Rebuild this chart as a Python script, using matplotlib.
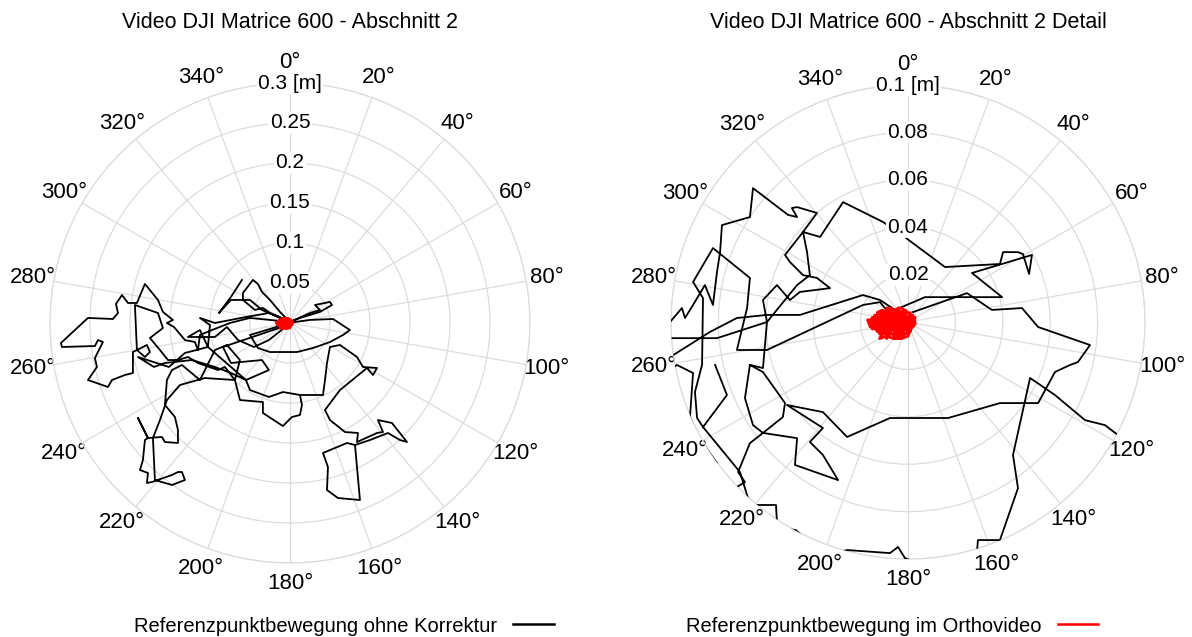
import numpy as np
import matplotlib.pyplot as plt
from matplotlib.lines import Line2D

plt.rcParams['font.family'] = ['Liberation Sans', 'DejaVu Sans']

nan = np.nan

# Referenzpunktbewegung ohne Korrektur (Ost / Nord, mm) - Uebersicht
ohne_x = [-2.5, 25, 37.5, 31.3, 50, 52.5, 37.5, 12.5, -2.5, 25, 53.8, 75, 66.3, 50, 28.8, 8.8,
          -25, -40, -50, -21.3, -2.5, -12.5, -25, -33.8, -43.8, -58.8, -58.8, -46.3, -40, -35,
          -25, -12.5, 0, -25, -50, -75, -97.5, -112.5, -115, -118.8, -131.3, -145, -153.8,
          -146.3, -158.8, -165, -181.3, -191.3, -202.5, -210, -217.5, -215, -221.3, -252.5,
          -286.3, -285, -243.8, -240, -233.8, -243.8, -241.3, -252.5, -227.5, -222.5, -206.3,
          -196.3, -196.3, -178.8, -175, -181.3, -191.3, -193.8, -165, -158.8, -175, -162.5,
          -152.5, -140, -127.5, -115, -90, -81.3, -68.8, -62.5, -78.8, -93.8, -112.5, -135,
          -147.5, -153.8, -156.3, -143.8, -140, -140, -156.3, -160, -177.5, -190, -177.5,
          -181.3, -183.8, -187.5, -177.5, -178.8, -172.5, -147.5, -140, -135, -131.3, -147.5,
          -168.8, -171.3, -162.5, -153.8, -137.5, -106.3, -68.8, -62.5, -33.8, -33.8, -8.8,
          2.5, 12.5, 15, 12.5, 41.3, 43.8, 46.3, 50, 62.5, 83.8, 91.3, 108.8, 103.8, 96.3,
          62.5, 43.8, 50, 68.8, 85, 83.8, 108.8, 116.3, 110, 127.5, 141.3, 146.3, 137.5,
          122.5, 100, 81.3, 87.5, 60, 46.3, 47.5, 41.3, 71.3, 81.3, nan,
          -60, -73.8, -88.8, -73.8, -50, -35, -6.3, -26.3, -55, -93.8, -112.5, -100, -102.5,
          -112.5, -127.5, -93.8, -78.8, -65, -45, -26.3, -2.5,
          -83.8, -73.8, -35, -26.3, -55, -73.8, -93.8, -122.5, -156.3, -170, -190, -151.3,
          -131.3, -102.5, -55, -50, -26.3, -8.8, 12.5]
ohne_y = [0, 12.5, 16.3, 22.5, 26.3, 22.5, 13.8, 6.3, 0, 3.8, 5, -8.8, -15, -23.8, -31.3, -36.3,
          -36.3, -31.3, -15, -6.3, 0, 7.5, 12.5, 18.8, 16.3, 28.8, 37.5, 53.8, 48.8, 38.8,
          28.8, 13.8, 1.3, 3.8, 6.3, 0, -8.8, -15, -33.8, -23.8, -21.3, -5, 0,
          3.8, 13.8, 28.8, 48.8, 25, 25, 35, 23.8, 12.5, 5, 6.3,
          -25, -30, -28.8, -21.3, -23.8, -43.8, -55, -71.3, -80, -71.3, -65,
          -62.5, -36.3, -27.5, -36.3, -42.5, -33.8, 22.5, 12.5, -6.3, -18.8, -33.8,
          -46.3, -46.3, -42.5, -50, -58.8, -55, -71.3, -46.3, -27.5, -33.8, -71.3, -52.5,
          -58.8, -71.3, -102.5, -117.5, -133.8, -150, -148.8, -142.5, -143.8, -118.8, -143.8,
          -146.3, -171.3, -183.8, -187.5, -200, -198.8, -190, -186.3, -186.3, -196.3, -202.5,
          -196.3, -143.8, -121.3, -96.3, -77.5, -68.8, -71.3, -96.3, -98.8, -112.5, -128.8,
          -117.5, -115, -102.5, -90, -90, -71.3, -50, -30, -27.5, -42.5, -55, -56.3, -65, -56.3,
          -83.8, -108.8, -121.3, -136.3, -137.5, -148.8, -137.5, -136.3, -121.3, -125, -142.5, -148.8, -146.3,
          -137.5, -146.3, -152.5, -221.3, -218.8, -208.8, -180, -162.5, -150, -152.5, nan,
          53.8, 32.5, 12.5, 28.8, 28.8, 16.3, 3.8, 12.5, 7.5, 0, 6.3, -2.5, -30,
          -8.8, -17.5, -17.5, -5, -21.3, -30, -21.3, -2.5,
          -30, -50, -46.3, -58.8, -71.3, -62.5, -55, -46.3, -50, -55, -42.5, -55,
          -37.5, -30, -71.3, -83.8, -92.5, -86.3, -90]

# Referenzpunktbewegung ohne Korrektur (Ost / Nord, mm) - Detailausschnitt
detail_x = [-113.1, -100.4, -83.6, -72.2, -59.5, -45.6, -19.0, -11.8, -5.5, 7.2, 39.7, 27.0,
            52.3, 51.1, 48.5, 46.4, 40.1, 38.8, 15.6, -2.5, -10.5, -27.4, -37.1, -44.3, -38.4,
            -46.8, -49.0, -46.8, -50.6, -65.4, -66.7, -78.5, -79.3, -80.6, -82.3, -85.7, -90.7,
            -94.1, -95.4, -100.4, -111.0, -100.4, -80.6, -59.5, -46.8, -41.4, -42.6, -44.3,
            -51.9, -49.8, -44.3, -38.4, -32.9, -45.6, -49.8, -55.3, -61.2, -59.5, -61.2, -66.7,
            -68.8, -65.4, -61.2, -46.8, -47.7, -29.5, -35.9, -41.4, -35.9, -51.1, -35.9, -25.7,
            -7.6, 16.9, 38.8, 54.9, 62.0, 68.4, 71.7, 76.8, 54.9, 48.1, 35.4, 24.9, 2.1, nan,
            28.7, 29.1, 29.5, 38.8, 46.4, 44.3, 51.5, 62.0, 74.7, 83.1, 88.6, 97.9, nan,
            -39.2, -25.7, -7.6, -4.2, -1.3, 9.3, nan,
            -73.0, -55.7, -54.9, nan,
            -54.0, -47.3, -39.2, nan,
            -79.3, -72.2, -68.8, -71.7, -66.7, -61.2, -52.8, -51.9, -61.2, -66.7, nan,
            -64.1, -67.5, -70.9, -86.5, -89.0, -89.9, -86.9, -86.5, -90.7, -82.3, -66.7, -67.9,
            -72.2, -59.5, -19.0, -11.8, -6.3, nan,
            -108.9, -97.5, -90.7, -92.0, -88.6, -80.6, nan,
            -81.4, -76.4, -86.5]
detail_y = [-19.4, -14.8, -4.2, 1.7, 3.0, 3.0, 11.4, 9.3, 5.1, 10.5, 10.5, 20.7,
            28.3, 20.3, 28.7, 29.5, 29.5, 24.5, 23.2, 36.7, 42.2, 50.6, 35.9, 38.0, 46.0,
            48.5, 48.1, 44.3, 45.2, 56.5, 44.3, 40.9, 29.5, 21.1, 7.2, 15.6, 7.2,
            1.7, 5.9, 0, -5.5, -6.8, -6.8, 0, 15.6, 19.8, 29.5, 38.0,
            28.3, 25.3, 19.8, 18.6, 14.3, 12.7, 9.3, 15.6, 9.3, 0, -19.4, -18.1,
            -32.1, -43.5, -46.8, -49.0, -60.3, -66.7, -56.1, -50.6, -44.7, -35.0, -38.0, -48.5,
            -40.5, -40.5, -34.2, -34.2, -21.1, -18.1, -16.9, -9.7, -2.1, 5.9, 5.1, 12.2, 4.2, nan,
            -106.8, -97.1, -92.0, -92.0, -70.1, -56.1, -23.6, -30.8, -41.4, -43.5, -47.7, -53.2, nan,
            -100.4, -96.2, -97.5, -94.9, -99.6, -103.8, nan,
            -77.2, -77.2, -92.0, nan,
            -86.9, -87.8, -95.4, nan,
            -77.2, -69.6, -67.5, -63.3, -51.1, -46.8, -40.1, -34.2, -21.1, -18.1, nan,
            -85.7, -74.3, -63.3, -44.3, -40.5, -29.5, -18.1, 10.1, 16.9, 31.2, 18.6, 5.9,
            -11.8, -11.8, 7.2, 8.4, 1.7, nan,
            -26.6, -18.1, -21.5, -40.1, -48.5, -59.5, nan,
            -18.1, -30.8, -44.3]

# Referenzpunktbewegung im Orthovideo (Ost / Nord, mm)
ortho_pts = [(-16, 0), (-13, 3), (-14, -2), (-11, 4), (-12, -4), (-9, 5), (-10, -5), (-7, 5),
             (-8, -6), (-5, 5), (-6, -6), (-3, 4), (-4, -5), (-1, 5), (-2, -4), (1, 4), (0, -3),
             (3, 2), (2, -2), (3, 0), (1, 3), (0, -4), (-2, 5), (-3, -5), (-4, 6), (-5, -6),
             (-7, 4), (-8, -5), (-9, 3), (-11, -6), (-12, 2), (-13, -4), (-15, 2), (-16, -2),
             (-17, 1), (-15, -3), (-14, 3), (-12, -5), (-10, 4), (-9, -7), (-7, 6), (-6, -4),
             (-4, 3), (-2, -6), (-1, 2), (1, -4), (2, 3), (3, -1), (1, 1), (-1, -1), (-3, 1),
             (-5, -2), (-6, 2), (-8, -2), (-9, 1), (-11, -2), (-13, 1), (-14, -1), (-12, 0),
             (-10, -1), (-8, 1), (-6, 0), (-4, -2), (-2, 0), (0, 1), (2, -1), (0, -6), (-3, -7),
             (-6, -7), (-9, -6), (-12, -7), (-10, -3), (-7, -2), (-4, -3), (-1, -3), (1, -1),
             (-1, 3), (-4, 5), (-7, 3), (-10, 2), (-13, 4), (-11, 5), (-8, 4), (-5, 3), (-2, 3),
             (0, 4), (-3, 6), (-6, 5), (-9, 6), (-6, 1), (-3, -1), (0, -1), (-2, -2), (-5, 0),
             (-8, -3), (-11, 0), (-14, -3), (-16, 1), (-13, -1), (-10, -4), (-7, -5), (-4, -6),
             (-1, -5), (2, -2)]
ortho_x, ortho_y = np.array(ortho_pts, dtype=float).T

angles = np.arange(0, 360, 20)
rings_links = [0.05, 0.1, 0.15, 0.2, 0.25, 0.3]
labels_links = ['0.05', '0.1', '0.15', '0.2', '0.25', '0.3 [m]']
rings_rechts = [0.02, 0.04, 0.06, 0.08, 0.1]
labels_rechts = ['0.02', '0.04', '0.06', '0.08', '0.1 [m]']

GRID = '#dcdcdc'


def to_polar(x, y):
    x = np.asarray(x, dtype=float) / 1000
    y = np.asarray(y, dtype=float) / 1000
    return np.arctan2(x, y), np.hypot(x, y)


def setup(ax, rings, labels):
    ax.set_theta_zero_location('N')
    ax.set_theta_direction(-1)
    ax.set_thetagrids(angles, [f'{a}°' for a in angles], fontsize=16)
    ax.set_rgrids(rings, labels=[''] * len(rings))
    ax.set_rlim(0, rings[-1])
    ax.grid(color=GRID, lw=0.9)
    ax.spines['polar'].set_color(GRID)
    ax.spines['polar'].set_linewidth(0.9)
    ax.tick_params(axis='x', pad=8, length=0)
    for r, lab in zip(rings, labels):
        ax.text(0, r, lab, ha='center', va='center', fontsize=15, zorder=6,
                bbox=dict(facecolor='white', edgecolor='none', pad=1.0))


fig = plt.figure(figsize=(11.92, 6.37), dpi=100)
ax1 = fig.add_axes([0.0419, 0.1162, 0.4027, 0.7535], projection='polar')
ax2 = fig.add_axes([0.5629, 0.1224, 0.3977, 0.7441], projection='polar')

t, r = to_polar(ohne_x, ohne_y)
ax1.plot(t, r, color='black', lw=1.3, zorder=3)
t, r = to_polar(ortho_x, ortho_y)
ax1.plot(t, r, color='red', lw=1.8, zorder=4)
setup(ax1, rings_links, labels_links)

t, r = to_polar(detail_x, detail_y)
ax2.plot(t, r, color='black', lw=1.3, zorder=3)
t, r = to_polar(ortho_x, ortho_y)
ax2.plot(t, r, color='red', lw=2.0, zorder=4)
setup(ax2, rings_rechts, labels_rechts)

fig.text(290 / 1192, 1 - 22 / 637, 'Video DJI Matrice 600 - Abschnitt 2',
         ha='center', va='center', fontsize=15.5)
fig.text(908 / 1192, 1 - 22 / 637, 'Video DJI Matrice 600 - Abschnitt 2 Detail',
         ha='center', va='center', fontsize=15.5)

fig.legend(handles=[Line2D([], [], color='black', lw=1.8)],
           labels=['Referenzpunktbewegung ohne Korrektur'],
           loc='center', bbox_to_anchor=(344 / 1192, 11 / 637), frameon=False,
           markerfirst=False, fontsize=14.5, handlelength=2.0, borderpad=0)
fig.legend(handles=[Line2D([], [], color='red', lw=1.8)],
           labels=['Referenzpunktbewegung im Orthovideo'],
           loc='center', bbox_to_anchor=(892 / 1192, 11 / 637), frameon=False,
           markerfirst=False, fontsize=14.5, handlelength=2.0, borderpad=0)

fig.savefig('out.png', dpi=100)
